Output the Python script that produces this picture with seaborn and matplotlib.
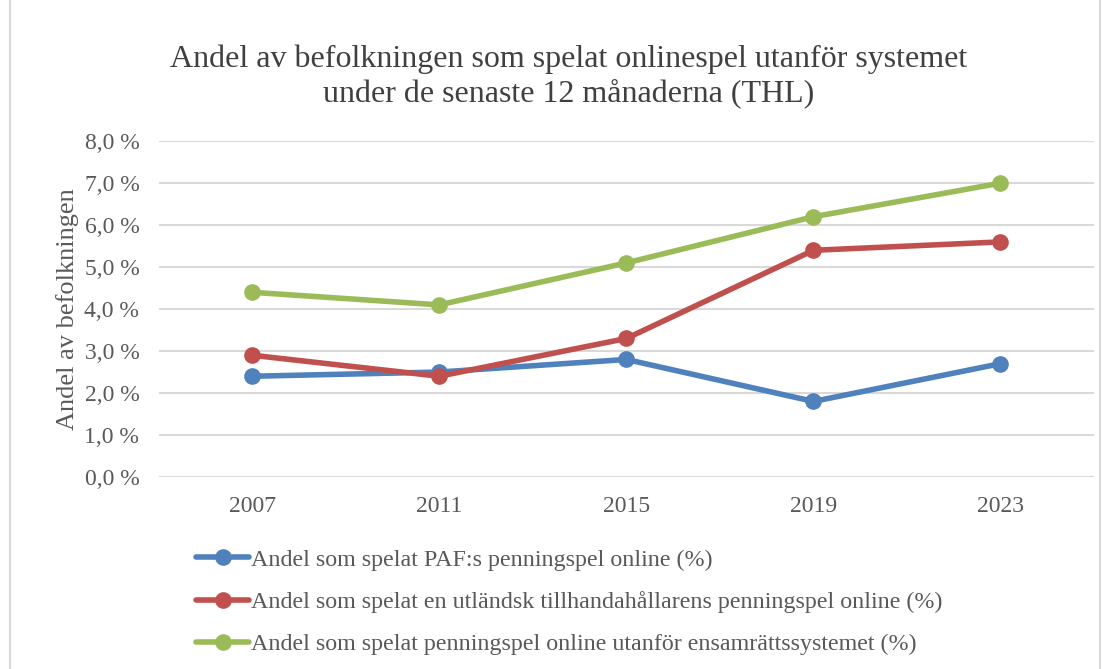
import numpy as np
import pandas as pd
import matplotlib.pyplot as plt
import seaborn as sns
from matplotlib.patches import Rectangle

years = ["2007", "2011", "2015", "2019", "2023"]
paf = [2.4, 2.5, 2.8, 1.8, 2.7]
utl = [2.9, 2.4, 3.3, 5.4, 5.6]
utanfor = [4.4, 4.1, 5.1, 6.2, 7.0]
labels = ["Andel som spelat PAF:s penningspel online (%)",
          "Andel som spelat en utländsk tillhandahållarens penningspel online (%)",
          "Andel som spelat penningspel online utanför ensamrättssystemet (%)"]
colors = ["#4F81BD", "#C0504D", "#9BBB59"]

df = pd.DataFrame({
    "year": years * 3,
    "value": paf + utl + utanfor,
    "serie": [labels[0]] * 5 + [labels[1]] * 5 + [labels[2]] * 5,
})

sns.set_style("white")
plt.rcParams['font.family'] = ['Liberation Serif', 'DejaVu Serif']
txt = "#595959"

fig = plt.figure(figsize=(11.1, 6.69), dpi=100)
ax = fig.add_axes([0.143, 0.287, 0.8426, 0.502])

sns.lineplot(data=df, x="year", y="value", hue="serie", palette=colors,
             marker="o", markersize=12, markeredgewidth=0, linewidth=4,
             sort=False, ax=ax, legend=False)

ax.set_xlim(-0.5, 4.5)
ax.set_ylim(0, 8)
ax.set_yticks(np.arange(0, 8.01, 1))
ax.set_yticklabels([f"{v:.1f} %".replace(".", ",") for v in np.arange(0, 8.01, 1)])
ax.grid(axis="y", color="#D9D9D9", linewidth=1.5)
ax.set_axisbelow(True)
for s in ax.spines.values():
    s.set_visible(False)
ax.tick_params(axis="both", length=0, labelsize=17, colors=txt)
ax.tick_params(axis="y", pad=14)
ax.tick_params(axis="x", pad=14)
ax.set_xlabel("")
ax.set_ylabel("Andel av befolkningen", fontsize=19, color=txt, labelpad=4)

fig.text(0.512, 0.886, "Andel av befolkningen som spelat onlinespel utanför systemet\nunder de senaste 12 månaderna (THL)",
         ha="center", va="center", fontsize=23, color="#404040", linespacing=1.2)

handles = [plt.Line2D([], [], color=c, marker="o", markersize=12, markeredgewidth=0, linewidth=4)
           for c in colors]
fig.legend(handles, labels, loc="upper left", bbox_to_anchor=(0.168, 0.194), frameon=False,
           fontsize=17.3, labelcolor=txt, handlelength=2.2, handletextpad=0.1, labelspacing=0.85,
           borderaxespad=0)

fig.patches.append(Rectangle((0.009, -0.01), 0.982, 1.02, transform=fig.transFigure,
                             fill=False, edgecolor="#D9D9D9", linewidth=1.5))

fig.savefig("out.png", dpi=100)
